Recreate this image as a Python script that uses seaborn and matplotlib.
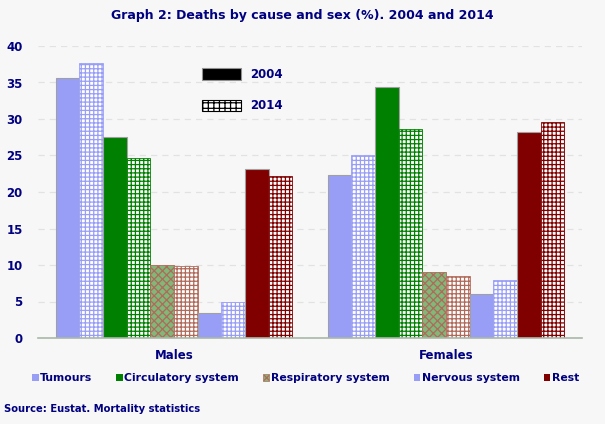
import pandas as pd
import matplotlib
matplotlib.use("Agg")
import matplotlib.pyplot as plt
from matplotlib.patches import Patch
import seaborn as sns

# data
sexes = ["Males", "Females"]
causes = ["Tumours", "Circulatory system", "Respiratory system", "Nervous system", "Rest"]
years = ["2004", "2014"]
males_2004 = [35.6, 27.5, 10.0, 3.4, 23.1]
males_2014 = [37.7, 24.6, 9.9, 5.0, 22.2]
females_2004 = [22.3, 34.4, 9.0, 6.0, 28.2]
females_2014 = [25.0, 28.6, 8.5, 7.9, 29.6]

colors = {"Tumours": "#989ef6", "Circulatory system": "#008000",
          "Respiratory system": "#80b878", "Nervous system": "#989ef6",
          "Rest": "#800000"}
grid_colors = {"Tumours": "#989ef6", "Circulatory system": "#008000",
               "Respiratory system": "#b06a5a", "Nervous system": "#989ef6",
               "Rest": "#800000"}
navy = "#000080"
bg = "#f7f7f7"

rows = []
vals = {("Males", "2004"): males_2004, ("Males", "2014"): males_2014,
        ("Females", "2004"): females_2004, ("Females", "2014"): females_2014}
for sex in sexes:
    for i, c in enumerate(causes):
        for y in years:
            rows.append({"sex": sex, "series": f"{c} {y}", "value": vals[(sex, y)][i]})
df = pd.DataFrame(rows)
hue_order = [f"{c} {y}" for c in causes for y in years]
palette = {f"{c} {y}": colors[c] for c in causes for y in years}

sns.set_style("white")
plt.rcParams["font.family"] = ["DejaVu Sans"]
plt.rcParams["hatch.linewidth"] = 0.9

fig = plt.figure(figsize=(6.05, 4.24), dpi=100, facecolor=bg)
ax = fig.add_axes([38 / 605, 86 / 424, 544 / 605, 292 / 424])
ax.set_facecolor(bg)

sns.barplot(data=df, x="sex", y="value", hue="series", hue_order=hue_order,
            order=sexes, palette=palette, width=0.87, ax=ax, legend=False,
            saturation=1, errorbar=None, linewidth=0.8, edgecolor="#a0a0a0")

for k, cont in enumerate(ax.containers):
    cause = causes[k // 2]
    year = years[k % 2]
    for p in cont:
        if year == "2014":
            p.set_facecolor("white")
            p.set_edgecolor(grid_colors[cause])
            p.set_hatch("++++")
            p.set_linewidth(0.6)
        elif cause == "Respiratory system":
            p.set_edgecolor("#b06a5a")
            p.set_hatch("xxxx")
            p.set_linewidth(0.6)

ax.set_xlim(-0.5, 1.5)
ax.set_ylim(0, 40)
ax.set_yticks(range(0, 41, 5))
ax.yaxis.grid(True, color="#e2e2e2", linestyle=(0, (5, 4)), linewidth=0.9)
ax.set_axisbelow(True)
ax.tick_params(axis="y", length=0, pad=11, labelsize=8.5, labelcolor=navy)
for lab in ax.get_yticklabels():
    lab.set_fontweight("bold")

ax.set_xticks([-0.5, 0.5, 1.5])
ax.set_xticklabels([])
ax.set_xticks([0, 1], minor=True)
ax.set_xticklabels(sexes, minor=True, fontsize=8.5, color=navy, fontweight="bold")
ax.tick_params(axis="x", which="major", length=4, color="#909090", direction="out")
ax.tick_params(axis="x", which="minor", length=0, pad=8)
ax.set_xlabel("")
ax.set_ylabel("")
for s in ["top", "right", "left"]:
    ax.spines[s].set_visible(False)
ax.spines["bottom"].set_color("#a8b8a8")
ax.spines["bottom"].set_linewidth(1.2)

# year legend inside the plot
yh = [Patch(facecolor="black", edgecolor="#909090", linewidth=0.8),
      Patch(facecolor="white", edgecolor="black", hatch="+++", linewidth=0.8)]
ax.legend(yh, years, loc="upper left", bbox_to_anchor=(0.29, 0.945),
          frameon=False, handlelength=3.3, handleheight=1.1, labelspacing=1.55,
          handletextpad=0.8, borderpad=0,
          prop={"weight": "bold", "size": 8.5}, labelcolor=navy)

# cause legend below
ch = [Patch(facecolor=colors[c], edgecolor="none") for c in causes]
ch[2] = Patch(facecolor=colors["Respiratory system"], edgecolor="#b06a5a", hatch="xxx", linewidth=0.5)
fig.legend(ch, causes, loc="center", bbox_to_anchor=(0.505, 0.108), ncol=5,
           frameon=False, handlelength=0.6, handleheight=0.6, handletextpad=0.15,
           columnspacing=2.2, prop={"weight": "bold", "size": 7.8}, labelcolor=navy)

fig.text(0.5, 1 - 16 / 424, "Graph 2: Deaths by cause and sex (%). 2004 and 2014",
         ha="center", va="center", fontsize=9, fontweight="bold", color=navy)
fig.text(4 / 605, 1 - 409 / 424, "Source: Eustat. Mortality statistics",
         ha="left", va="center", fontsize=7.2, fontweight="bold", color=navy)

fig.savefig("out.png", dpi=100, facecolor=bg)
